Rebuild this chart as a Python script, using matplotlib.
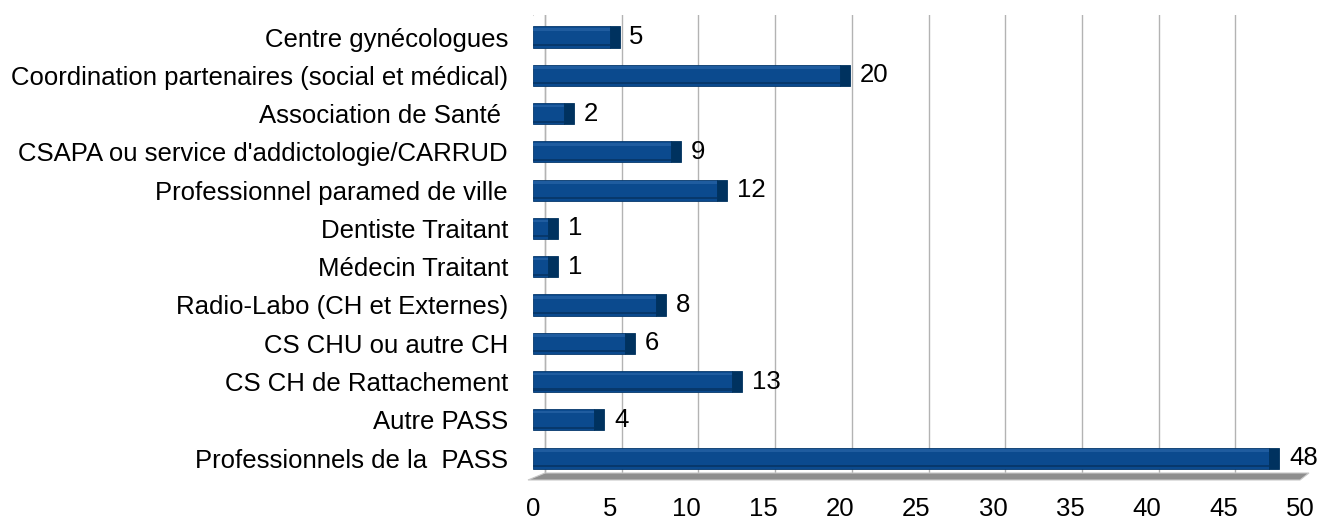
import matplotlib.pyplot as plt
import matplotlib.transforms as mtransforms
from matplotlib.patches import Polygon
import numpy as np

plt.rcParams['font.family'] = ['Liberation Sans', 'DejaVu Sans']

categories = [
    "Centre gynécologues",
    "Coordination partenaires (social et médical)",
    "Association de Santé ",
    "CSAPA ou service d'addictologie/CARRUD",
    "Professionnel paramed de ville",
    "Dentiste Traitant",
    "Médecin Traitant",
    "Radio-Labo (CH et Externes)",
    "CS CHU ou autre CH",
    "CS CH de Rattachement",
    "Autre PASS",
    "Professionnels de la  PASS",
]
values = [5, 20, 2, 9, 12, 1, 1, 8, 6, 13, 4, 48]
xticks = list(range(0, 51, 5))

bar_col = "#0b4a8e"
cap_col = "#00325f"
grid_col = "#b3b3b3"
fs = 18.5

W, H = 1322, 525
fig = plt.figure(figsize=(W / 100, H / 100), dpi=100)
ax = fig.add_axes([533 / W, (H - 478) / H, (1300 - 533) / W, (478 - 15) / H])
ax.set_xlim(0, 50)
ax.set_ylim(11.52, -0.575)

y = np.arange(len(categories))

# back wall gridlines (shifted right like the 3D back plane)
off = mtransforms.ScaledTranslation(12 / 100, 0, fig.dpi_scale_trans)
gtr = ax.get_xaxis_transform() + off
for xv in xticks:
    ax.plot([xv, xv], [0.011, 1.0], color=grid_col, lw=1, transform=gtr, zorder=0)
# left wall
ax.plot([-0.3, -0.3], [0.0, 0.985], color=grid_col, lw=1,
        transform=ax.get_xaxis_transform(), zorder=0)
ax.plot([-0.3, 0], [0.985, 1.0], color=grid_col, lw=1,
        transform=ax.get_xaxis_transform(), zorder=0)
ax.plot([0, 0], [0.011, 1.0], color=grid_col, lw=1, transform=gtr, zorder=0)

# floor
fig.canvas.draw()
x0, _ = ax.transData.transform((0, 0))
x1, _ = ax.transData.transform((50, 0))
yb = H - 480
yt = H - 473
floor = Polygon([(x0 - 5, yb), (x1, yb), (x1 + 9, yt), (x0 + 12, yt)],
                closed=True, transform=None, facecolor="#8e8e8e",
                edgecolor="#c8c8c8", lw=0.8, zorder=1)
fig.add_artist(floor)

# bars with a darker end cap and shaded edges
h = 0.55
ax.barh(y, values, height=h, color=bar_col, edgecolor="#06386c", lw=0.6, zorder=3)
ax.barh(y - h * 0.36, values, height=h * 0.12, color="#1f5c9f", lw=0, zorder=4)
ax.barh(y + h * 0.38, values, height=h * 0.10, color="#07386c", lw=0, zorder=4)
ax.barh(y, [0.65] * len(values), left=values, height=h, color=cap_col,
        edgecolor=cap_col, lw=0.6, zorder=3)

for yi, v in zip(y, values):
    ax.annotate(str(v), (v + 0.65, yi), xytext=(7, 0), textcoords="offset points",
                va="center", ha="left", fontsize=fs, zorder=5)

ax.set_yticks(y)
ax.set_yticklabels(categories, fontsize=fs)
ax.set_xticks(xticks)
ax.set_xticklabels([str(t) for t in xticks], fontsize=fs)
ax.tick_params(axis='y', length=0, pad=18)
ax.tick_params(axis='x', length=0, pad=14)
for s in ax.spines.values():
    s.set_visible(False)
ax.set_facecolor("none")

fig.savefig("out.png", dpi=100)
